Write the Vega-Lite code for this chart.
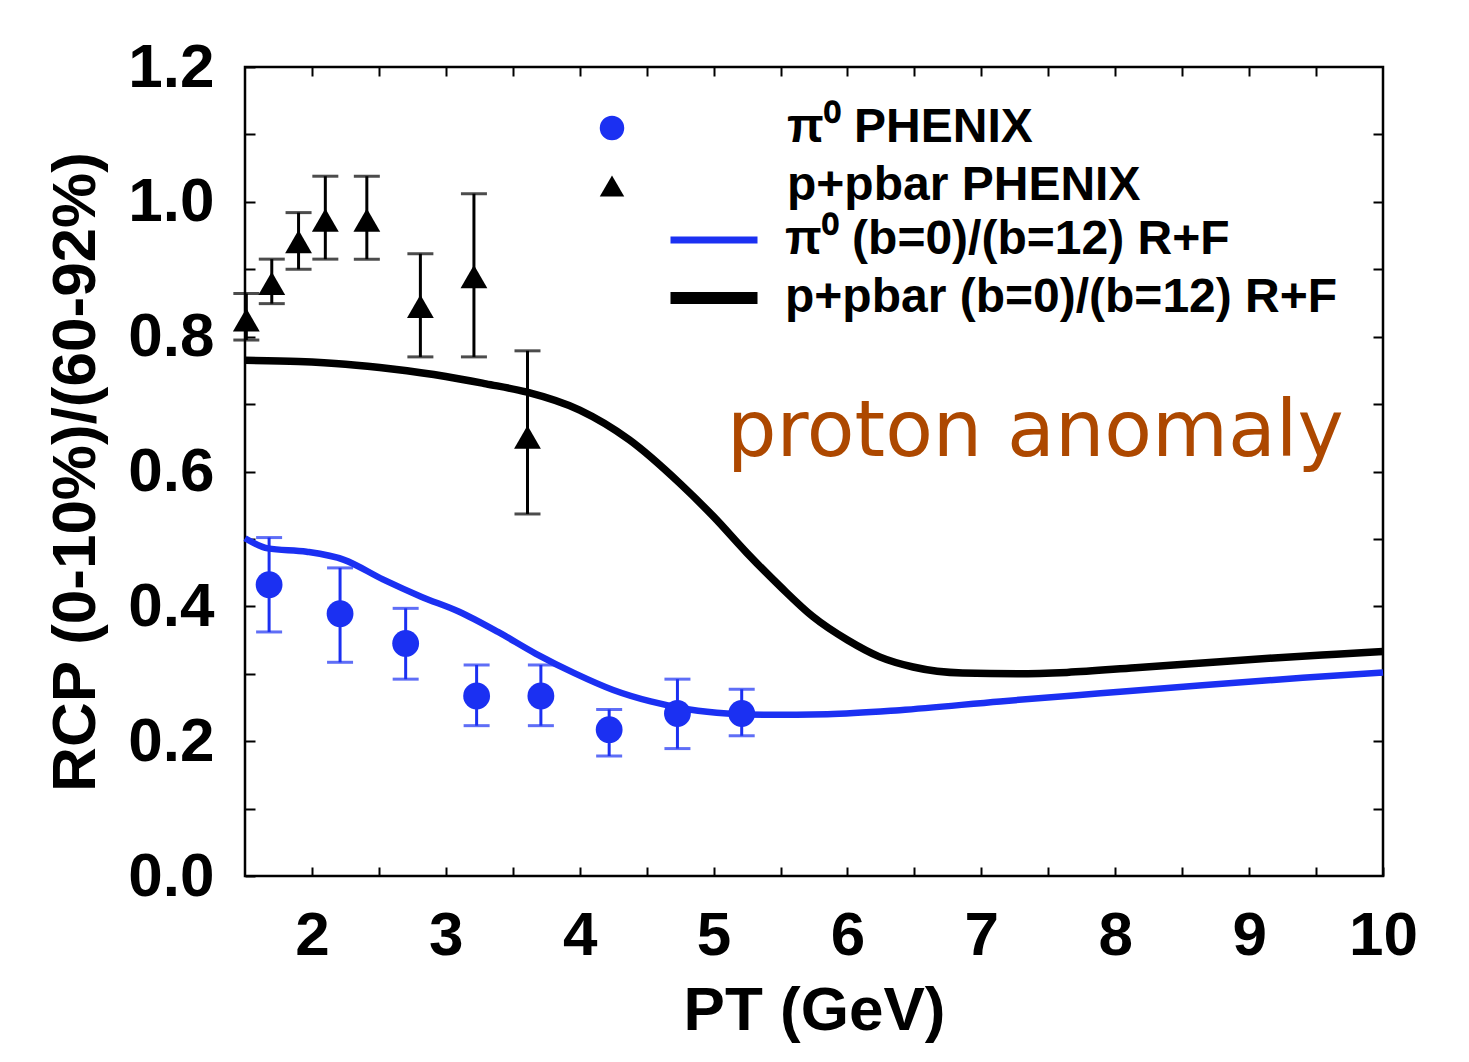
{
  "$schema": "https://vega.github.io/schema/vega-lite/v6.json",
  "width": 1138,
  "height": 809,
  "autosize": {"type": "none"},
  "padding": {"left": 245, "top": 67, "right": 86, "bottom": 186},
  "background": "white",
  "config": {
    "view": {"stroke": "black", "strokeWidth": 2.5},
    "font": "Liberation Sans"
  },
  "datasets": {
    "pts": [
      {"pt": 1.68, "r": 0.432, "lo": 0.362, "hi": 0.502, "series": "π⁰ PHENIX"},
      {"pt": 2.21, "r": 0.389, "lo": 0.317, "hi": 0.457, "series": "π⁰ PHENIX"},
      {"pt": 2.70, "r": 0.345, "lo": 0.292, "hi": 0.397, "series": "π⁰ PHENIX"},
      {"pt": 3.23, "r": 0.267, "lo": 0.223, "hi": 0.313, "series": "π⁰ PHENIX"},
      {"pt": 3.71, "r": 0.267, "lo": 0.223, "hi": 0.313, "series": "π⁰ PHENIX"},
      {"pt": 4.22, "r": 0.217, "lo": 0.178, "hi": 0.247, "series": "π⁰ PHENIX"},
      {"pt": 4.73, "r": 0.241, "lo": 0.189, "hi": 0.292, "series": "π⁰ PHENIX"},
      {"pt": 5.21, "r": 0.241, "lo": 0.208, "hi": 0.277, "series": "π⁰ PHENIX"},
      {"pt": 1.51, "r": 0.825, "lo": 0.795, "hi": 0.864, "series": "p+pbar PHENIX"},
      {"pt": 1.70, "r": 0.879, "lo": 0.849, "hi": 0.915, "series": "p+pbar PHENIX"},
      {"pt": 1.90, "r": 0.941, "lo": 0.900, "hi": 0.984, "series": "p+pbar PHENIX"},
      {"pt": 2.10, "r": 0.973, "lo": 0.915, "hi": 1.038, "series": "p+pbar PHENIX"},
      {"pt": 2.41, "r": 0.973, "lo": 0.915, "hi": 1.038, "series": "p+pbar PHENIX"},
      {"pt": 2.81, "r": 0.845, "lo": 0.770, "hi": 0.923, "series": "p+pbar PHENIX"},
      {"pt": 3.21, "r": 0.889, "lo": 0.770, "hi": 1.012, "series": "p+pbar PHENIX"},
      {"pt": 3.61, "r": 0.651, "lo": 0.537, "hi": 0.779, "series": "p+pbar PHENIX"}
    ],
    "curves": [
      {"pt": 1.5, "r": 0.501, "model": "π⁰ (b=0)/(b=12) R+F"},
      {"pt": 1.67, "r": 0.486, "model": "π⁰ (b=0)/(b=12) R+F"},
      {"pt": 1.96, "r": 0.481, "model": "π⁰ (b=0)/(b=12) R+F"},
      {"pt": 2.24, "r": 0.469, "model": "π⁰ (b=0)/(b=12) R+F"},
      {"pt": 2.53, "r": 0.440, "model": "π⁰ (b=0)/(b=12) R+F"},
      {"pt": 2.82, "r": 0.414, "model": "π⁰ (b=0)/(b=12) R+F"},
      {"pt": 3.10, "r": 0.392, "model": "π⁰ (b=0)/(b=12) R+F"},
      {"pt": 3.39, "r": 0.362, "model": "π⁰ (b=0)/(b=12) R+F"},
      {"pt": 3.67, "r": 0.330, "model": "π⁰ (b=0)/(b=12) R+F"},
      {"pt": 3.96, "r": 0.301, "model": "π⁰ (b=0)/(b=12) R+F"},
      {"pt": 4.25, "r": 0.276, "model": "π⁰ (b=0)/(b=12) R+F"},
      {"pt": 4.53, "r": 0.259, "model": "π⁰ (b=0)/(b=12) R+F"},
      {"pt": 4.82, "r": 0.247, "model": "π⁰ (b=0)/(b=12) R+F"},
      {"pt": 5.10, "r": 0.241, "model": "π⁰ (b=0)/(b=12) R+F"},
      {"pt": 5.39, "r": 0.239, "model": "π⁰ (b=0)/(b=12) R+F"},
      {"pt": 5.85, "r": 0.240, "model": "π⁰ (b=0)/(b=12) R+F"},
      {"pt": 6.39, "r": 0.246, "model": "π⁰ (b=0)/(b=12) R+F"},
      {"pt": 7.14, "r": 0.259, "model": "π⁰ (b=0)/(b=12) R+F"},
      {"pt": 7.89, "r": 0.271, "model": "π⁰ (b=0)/(b=12) R+F"},
      {"pt": 8.65, "r": 0.283, "model": "π⁰ (b=0)/(b=12) R+F"},
      {"pt": 9.40, "r": 0.294, "model": "π⁰ (b=0)/(b=12) R+F"},
      {"pt": 10.0, "r": 0.302, "model": "π⁰ (b=0)/(b=12) R+F"},
      {"pt": 1.5, "r": 0.765, "model": "p+pbar (b=0)/(b=12) R+F"},
      {"pt": 1.9, "r": 0.763, "model": "p+pbar (b=0)/(b=12) R+F"},
      {"pt": 2.25, "r": 0.759, "model": "p+pbar (b=0)/(b=12) R+F"},
      {"pt": 2.6, "r": 0.752, "model": "p+pbar (b=0)/(b=12) R+F"},
      {"pt": 3.0, "r": 0.741, "model": "p+pbar (b=0)/(b=12) R+F"},
      {"pt": 3.3, "r": 0.730, "model": "p+pbar (b=0)/(b=12) R+F"},
      {"pt": 3.6, "r": 0.718, "model": "p+pbar (b=0)/(b=12) R+F"},
      {"pt": 4.0, "r": 0.691, "model": "p+pbar (b=0)/(b=12) R+F"},
      {"pt": 4.37, "r": 0.647, "model": "p+pbar (b=0)/(b=12) R+F"},
      {"pt": 4.75, "r": 0.582, "model": "p+pbar (b=0)/(b=12) R+F"},
      {"pt": 5.0, "r": 0.533, "model": "p+pbar (b=0)/(b=12) R+F"},
      {"pt": 5.25, "r": 0.479, "model": "p+pbar (b=0)/(b=12) R+F"},
      {"pt": 5.5, "r": 0.429, "model": "p+pbar (b=0)/(b=12) R+F"},
      {"pt": 5.74, "r": 0.385, "model": "p+pbar (b=0)/(b=12) R+F"},
      {"pt": 6.0, "r": 0.350, "model": "p+pbar (b=0)/(b=12) R+F"},
      {"pt": 6.24, "r": 0.325, "model": "p+pbar (b=0)/(b=12) R+F"},
      {"pt": 6.49, "r": 0.310, "model": "p+pbar (b=0)/(b=12) R+F"},
      {"pt": 6.86, "r": 0.301, "model": "p+pbar (b=0)/(b=12) R+F"},
      {"pt": 7.27, "r": 0.300, "model": "p+pbar (b=0)/(b=12) R+F"},
      {"pt": 7.64, "r": 0.302, "model": "p+pbar (b=0)/(b=12) R+F"},
      {"pt": 8.15, "r": 0.309, "model": "p+pbar (b=0)/(b=12) R+F"},
      {"pt": 8.65, "r": 0.316, "model": "p+pbar (b=0)/(b=12) R+F"},
      {"pt": 9.15, "r": 0.323, "model": "p+pbar (b=0)/(b=12) R+F"},
      {"pt": 9.65, "r": 0.329, "model": "p+pbar (b=0)/(b=12) R+F"},
      {"pt": 10.0, "r": 0.333, "model": "p+pbar (b=0)/(b=12) R+F"}
    ],
    "note": [
      {"pt": 5.10, "r": 0.623, "label": "proton anomaly"}
    ]
  },
  "layer": [
    {
      "data": {"name": "curves"},
      "transform": [{"filter": "datum.model === 'p+pbar (b=0)/(b=12) R+F'"}],
      "mark": {"type": "line", "interpolate": "monotone", "strokeWidth": 7.5},
      "encoding": {
        "x": {
          "field": "pt", "type": "quantitative",
          "scale": {"domain": [1.5, 10], "nice": false, "zero": false},
          "axis": {
            "orient": "bottom",
            "values": [2, 2.5, 3, 3.5, 4, 4.5, 5, 5.5, 6, 6.5, 7, 7.5, 8, 8.5, 9, 9.5, 10],
            "labelExpr": "datum.value % 1 === 0 ? format(datum.value, 'd') : ''",
            "domain": false, "grid": false,
            "tickSize": -9, "tickWidth": 2, "tickColor": "black",
            "labelFont": "Liberation Sans", "labelFontSize": 62, "labelFontWeight": "bold", "labelColor": "black",
            "labelPadding": 38, "labelFlush": false, "labelOverlap": false, "labelBound": false,
            "title": "PT (GeV)", "titleFont": "Liberation Sans", "titleFontSize": 62, "titleFontWeight": "bold",
            "titleColor": "black", "titlePadding": 14
          }
        },
        "y": {
          "field": "r", "type": "quantitative",
          "scale": {"domain": [0, 1.2], "nice": false, "zero": false},
          "axis": {
            "orient": "left",
            "values": [0, 0.1, 0.2, 0.3, 0.4, 0.5, 0.6, 0.7, 0.8, 0.9, 1.0, 1.1, 1.2],
            "labelExpr": "round(datum.value * 10) % 2 === 0 ? format(datum.value, '.1f') : ''",
            "domain": false, "grid": false,
            "tickSize": -10, "tickWidth": 2, "tickColor": "black",
            "labelFont": "Liberation Sans", "labelFontSize": 62, "labelFontWeight": "bold", "labelColor": "black",
            "labelPadding": 41, "labelOverlap": false, "labelBound": false, "labelFlush": false,
            "title": "RCP (0-10%)/(60-92%)", "titleFont": "Liberation Sans", "titleFontSize": 62, "titleFontWeight": "bold",
            "titleColor": "black", "titlePadding": 20
          }
        },
        "stroke": {
          "field": "model", "type": "nominal",
          "scale": {"domain": ["π⁰ (b=0)/(b=12) R+F", "p+pbar (b=0)/(b=12) R+F"], "range": ["#1b30f2", "#000000"]},
          "legend": {
            "orient": "none", "legendX": 445, "legendY": 149, "title": null,
            "symbolType": "stroke", "symbolSize": 7569, "symbolStrokeWidth": 7,
            "labelFont": "Liberation Sans", "labelFontSize": 48, "labelFontWeight": "bold", "labelColor": "black",
            "labelOffset": 47, "rowPadding": 10, "padding": 0, "labelLimit": 0,
            "encode": {"symbols": {"update": {"strokeWidth": {"signal": "datum.value === 'p+pbar (b=0)/(b=12) R+F' ? 12 : 7"}}}}
          }
        }
      }
    },
    {
      "data": {"name": "curves"},
      "transform": [{"filter": "datum.model === 'π⁰ (b=0)/(b=12) R+F'"}],
      "mark": {"type": "line", "interpolate": "monotone", "strokeWidth": 6.5},
      "encoding": {
        "x": {"field": "pt", "type": "quantitative", "axis": null},
        "y": {"field": "r", "type": "quantitative", "axis": null},
        "stroke": {
          "field": "model", "type": "nominal",
          "scale": {"domain": ["π⁰ (b=0)/(b=12) R+F", "p+pbar (b=0)/(b=12) R+F"], "range": ["#1b30f2", "#000000"]},
          "legend": {
            "orient": "none", "legendX": 445, "legendY": 149, "title": null,
            "symbolType": "stroke", "symbolSize": 7569, "symbolStrokeWidth": 7,
            "labelFont": "Liberation Sans", "labelFontSize": 48, "labelFontWeight": "bold", "labelColor": "black",
            "labelOffset": 47, "rowPadding": 10, "padding": 0, "labelLimit": 0,
            "encode": {"symbols": {"update": {"strokeWidth": {"signal": "datum.value === 'p+pbar (b=0)/(b=12) R+F' ? 12 : 7"}}}}
          }
        }
      }
    },
    {
      "data": {"name": "pts"},
      "transform": [{"filter": "datum.series === 'p+pbar PHENIX'"}],
      "mark": {"type": "errorbar", "ticks": {"size": 26, "thickness": 3, "color": "#000000"}, "rule": {"strokeWidth": 3, "color": "#000000"}},
      "encoding": {
        "x": {"field": "pt", "type": "quantitative", "axis": null},
        "y": {"field": "lo", "type": "quantitative", "axis": null},
        "y2": {"field": "hi"}
      }
    },
    {
      "data": {"name": "pts"},
      "transform": [{"filter": "datum.series === 'π⁰ PHENIX'"}],
      "mark": {"type": "errorbar", "ticks": {"size": 26, "thickness": 3, "color": "#1b30f2"}, "rule": {"strokeWidth": 3, "color": "#1b30f2"}},
      "encoding": {
        "x": {"field": "pt", "type": "quantitative", "axis": null},
        "y": {"field": "lo", "type": "quantitative", "axis": null},
        "y2": {"field": "hi"}
      }
    },
    {
      "data": {"name": "pts"},
      "mark": {"type": "point", "filled": true, "size": 720, "opacity": 1},
      "encoding": {
        "x": {
          "field": "pt", "type": "quantitative",
          "axis": {
            "orient": "top",
            "values": [2, 2.5, 3, 3.5, 4, 4.5, 5, 5.5, 6, 6.5, 7, 7.5, 8, 8.5, 9, 9.5],
            "labels": false, "domain": false, "grid": false, "title": null,
            "tickSize": -9, "tickWidth": 2, "tickColor": "black"
          }
        },
        "y": {
          "field": "r", "type": "quantitative",
          "axis": {
            "orient": "right",
            "values": [0.1, 0.2, 0.3, 0.4, 0.5, 0.6, 0.7, 0.8, 0.9, 1.0, 1.1],
            "labels": false, "domain": false, "grid": false, "title": null,
            "tickSize": -10, "tickWidth": 2, "tickColor": "black"
          }
        },
        "fill": {
          "field": "series", "type": "nominal",
          "scale": {"domain": ["π⁰ PHENIX", "p+pbar PHENIX"], "range": ["#1b30f2", "#000000"]},
          "legend": {
            "orient": "none", "legendX": 343, "legendY": 37, "title": null,
            "symbolSize": 600, "labelFont": "Liberation Sans", "labelFontSize": 48, "labelFontWeight": "bold",
            "labelColor": "black", "labelOffset": 151, "rowPadding": 10, "padding": 0, "labelLimit": 0
          }
        },
        "shape": {
          "field": "series", "type": "nominal",
          "scale": {"domain": ["π⁰ PHENIX", "p+pbar PHENIX"], "range": ["circle", "triangle-up"]},
          "legend": {
            "orient": "none", "legendX": 343, "legendY": 37, "title": null,
            "symbolSize": 600, "labelFont": "Liberation Sans", "labelFontSize": 48, "labelFontWeight": "bold",
            "labelColor": "black", "labelOffset": 151, "rowPadding": 10, "padding": 0, "labelLimit": 0
          }
        }
      }
    },
    {
      "data": {"name": "note"},
      "mark": {"type": "text", "font": "DejaVu Sans", "fontSize": 78, "color": "#ad4800", "align": "left", "baseline": "alphabetic"},
      "encoding": {
        "x": {"field": "pt", "type": "quantitative", "axis": null},
        "y": {"field": "r", "type": "quantitative", "axis": null},
        "text": {"field": "label"}
      }
    }
  ],
  "resolve": {"axis": {"x": "independent", "y": "independent"}}
}
